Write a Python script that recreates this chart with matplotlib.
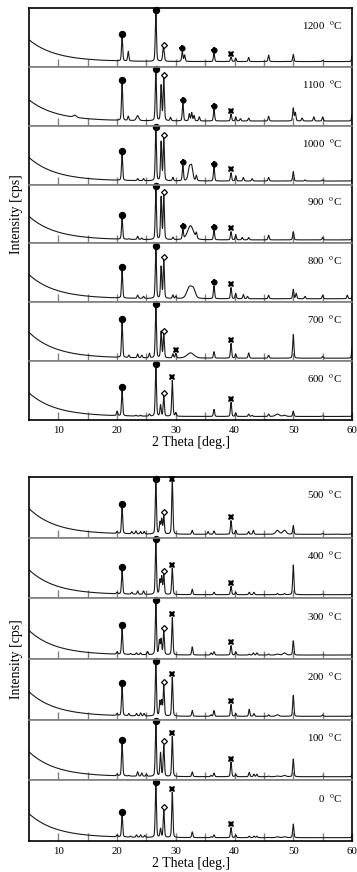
import numpy as np
import matplotlib
matplotlib.use('Agg')
import matplotlib.pyplot as plt

plt.rcParams['font.family'] = ['Liberation Serif', 'DejaVu Serif']
plt.rcParams['mathtext.fontset'] = 'stix'

# ---------------- data ----------------
temps_top = [1200, 1100, 1000, 900, 800, 700, 600]
temps_bot = [500, 400, 300, 200, 100, 0]
x_ticks = [10, 20, 30, 40, 50, 60]
x_minor = [10, 15, 20, 25, 30, 35, 40, 45, 50, 55]

# background per panel (top->bottom, 1200 ... 0): level at 5 deg, floor, decay length
bg_start = [0.46, 0.44, 0.46, 0.46, 0.47, 0.49, 0.46, 0.48, 0.47, 0.47, 0.46, 0.47, 0.45]
bg_floor = [0.09, 0.08, 0.06, 0.06, 0.06, 0.05, 0.06, 0.055, 0.06, 0.065, 0.055, 0.06, 0.055]
bg_decay = [4.5, 4.5, 4.5, 4.5, 4.5, 4.5, 4.5, 4.5, 4.5, 4.5, 4.5, 4.5, 4.5]

# peaks: (2theta, total height as fraction of panel, [half width])
peaks_1200 = [(20.85, 0.51), (21.9, 0.26), (26.6, 0.92), (27.9, 0.34, 0.15), (31.1, 0.26),
              (31.5, 0.2), (36.5, 0.23), (39.4, 0.17), (40.2, 0.15), (42.4, 0.16),
              (45.8, 0.2), (50.0, 0.21), (55.0, 0.11), (60.05, 0.2)]
peaks_1100 = [(12.8, 0.18, 0.3), (20.85, 0.73), (21.9, 0.16), (23.5, 0.17, 0.25), (26.6, 0.92),
              (27.5, 0.68), (27.95, 0.8), (29.1, 0.14), (31.2, 0.38), (32.3, 0.2),
              (32.7, 0.22), (33.1, 0.17), (34.0, 0.15), (36.5, 0.28), (39.4, 0.2),
              (40.2, 0.15), (41.0, 0.12), (42.4, 0.13), (45.8, 0.16), (50.0, 0.3),
              (50.35, 0.22), (51.5, 0.13), (53.5, 0.15), (55.0, 0.15), (60.05, 0.2)]
peaks_1000 = [(8.8, 0.13, 0.25), (13.5, 0.1, 0.3), (20.85, 0.52), (23.5, 0.1), (24.5, 0.1),
              (26.6, 0.95), (27.5, 0.72), (27.95, 0.78), (29.5, 0.12), (31.2, 0.32),
              (32.3, 0.27, 0.25), (32.7, 0.29, 0.25), (33.5, 0.15), (36.5, 0.3),
              (39.4, 0.2), (40.2, 0.15), (41.5, 0.12), (43.0, 0.1), (45.8, 0.12),
              (50.0, 0.22), (52.0, 0.08), (55.0, 0.08), (60.05, 0.1)]
peaks_900 = [(8.8, 0.15, 0.25), (13.8, 0.1, 0.3), (20.85, 0.43), (22.0, 0.08), (23.5, 0.12),
             (24.2, 0.09), (26.6, 0.92), (27.5, 0.78), (27.95, 0.8), (29.5, 0.1),
             (31.2, 0.22), (32.5, 0.3, 0.6), (33.5, 0.15), (36.5, 0.22), (39.4, 0.2),
             (40.2, 0.15), (41.3, 0.1), (42.4, 0.1), (45.8, 0.14), (50.0, 0.2),
             (55.0, 0.1), (60.05, 0.1)]
peaks_800 = [(8.8, 0.15, 0.25), (13.8, 0.1, 0.3), (20.85, 0.54), (23.5, 0.12), (24.5, 0.1),
             (26.6, 0.9), (27.5, 0.6), (27.95, 0.7), (29.5, 0.12), (30.0, 0.1),
             (32.3, 0.25, 0.5), (33.0, 0.2, 0.4), (36.5, 0.28), (39.4, 0.25), (40.2, 0.15),
             (41.5, 0.13), (42.2, 0.1), (45.8, 0.12), (50.0, 0.22), (50.5, 0.15),
             (52.0, 0.1), (55.0, 0.12), (59.2, 0.12), (60.05, 0.1)]
peaks_700 = [(13.8, 0.08, 0.3), (20.85, 0.66), (22.0, 0.1), (23.5, 0.12), (24.2, 0.1),
             (25.5, 0.13), (26.6, 0.92), (27.5, 0.5), (27.95, 0.45), (29.5, 0.12),
             (30.0, 0.13), (32.5, 0.14, 0.7), (36.5, 0.16), (39.4, 0.3), (40.2, 0.12),
             (42.4, 0.14), (45.8, 0.1), (50.0, 0.45), (55.0, 0.08), (60.05, 0.25)]
peaks_600 = [(20.0, 0.15), (20.85, 0.5), (22.0, 0.07), (23.2, 0.08), (24.0, 0.08),
             (25.5, 0.1), (26.6, 0.9), (27.4, 0.25), (27.95, 0.4), (29.4, 0.67),
             (30.0, 0.12), (36.5, 0.18), (39.4, 0.3), (40.2, 0.12), (42.4, 0.1),
             (43.0, 0.08), (45.8, 0.1), (47.3, 0.1, 0.4), (48.5, 0.08, 0.3), (50.0, 0.15),
             (55.0, 0.07), (60.05, 0.1)]
peaks_500 = [(20.0, 0.1), (20.85, 0.5), (22.5, 0.1), (23.2, 0.11), (24.0, 0.1), (24.6, 0.1),
             (26.6, 0.9), (27.3, 0.25), (27.6, 0.3), (27.95, 0.35), (29.4, 0.95),
             (32.8, 0.12), (35.5, 0.1), (36.5, 0.11), (39.4, 0.28), (40.2, 0.12),
             (42.4, 0.1), (43.2, 0.12), (47.3, 0.12, 0.35), (48.5, 0.12, 0.35),
             (50.0, 0.2), (55.0, 0.07), (57.5, 0.06), (60.05, 0.1)]
peaks_400 = [(20.0, 0.1), (20.85, 0.46), (22.5, 0.1), (23.5, 0.12), (24.5, 0.12),
             (26.6, 0.92), (27.3, 0.3), (27.6, 0.35), (27.95, 0.38), (29.4, 0.5),
             (32.8, 0.15), (36.5, 0.1), (39.4, 0.2), (40.2, 0.1), (42.5, 0.1),
             (43.3, 0.1), (47.3, 0.08), (48.5, 0.08), (50.0, 0.55), (55.0, 0.07),
             (60.05, 0.1)]
peaks_300 = [(20.0, 0.12), (20.85, 0.5), (22.3, 0.09), (23.3, 0.1), (24.0, 0.1), (25.2, 0.12),
             (26.6, 0.92), (27.2, 0.3), (27.5, 0.32), (27.95, 0.45), (29.4, 0.68),
             (32.8, 0.2), (36.0, 0.1), (36.5, 0.12), (39.4, 0.22), (40.2, 0.12),
             (42.5, 0.08), (43.2, 0.1), (43.8, 0.1), (45.8, 0.08), (47.3, 0.08, 0.3),
             (48.5, 0.1, 0.3), (50.0, 0.3), (55.0, 0.07), (60.05, 0.1)]
peaks_200 = [(20.0, 0.1), (20.85, 0.55), (22.0, 0.1), (23.3, 0.1), (24.0, 0.11), (24.6, 0.1),
             (26.6, 0.92), (27.3, 0.3), (27.6, 0.3), (27.95, 0.55), (29.4, 0.7),
             (32.8, 0.15), (36.0, 0.08), (36.5, 0.15), (39.4, 0.25), (40.2, 0.1),
             (42.5, 0.17), (43.3, 0.1), (45.8, 0.08), (47.3, 0.08, 0.3), (50.0, 0.4),
             (55.0, 0.08), (60.05, 0.1)]
peaks_100 = [(8.8, 0.1, 0.25), (13.8, 0.08, 0.3), (20.0, 0.1), (20.85, 0.62), (22.0, 0.08),
             (23.5, 0.14), (24.2, 0.12), (25.0, 0.1), (26.6, 0.92), (27.4, 0.45),
             (27.95, 0.58), (29.4, 0.72), (32.8, 0.14), (36.0, 0.08), (36.5, 0.12),
             (39.4, 0.3), (40.2, 0.1), (42.5, 0.13), (43.3, 0.1), (43.8, 0.1),
             (45.8, 0.07), (47.3, 0.07, 0.3), (48.5, 0.08, 0.3), (50.0, 0.35),
             (55.0, 0.07), (60.05, 0.1)]
peaks_0 = [(20.0, 0.1), (20.85, 0.43), (22.3, 0.08), (23.3, 0.1), (24.0, 0.1), (24.7, 0.09),
           (26.6, 0.92), (27.4, 0.2), (27.95, 0.5), (29.4, 0.8), (32.8, 0.15),
           (36.0, 0.07), (36.5, 0.1), (39.4, 0.22), (40.2, 0.1), (42.5, 0.08),
           (43.3, 0.08), (43.8, 0.08), (45.8, 0.06), (47.3, 0.07, 0.3), (48.5, 0.07, 0.3),
           (50.0, 0.28), (55.0, 0.05), (60.05, 0.1)]

# phase markers: 'q' = filled circle, 'd' = open diamond, 'c' = filled cross, 'x' = bold x
marks_1200 = [('q', 20.85), ('q', 26.6), ('d', 27.95), ('c', 31.1), ('c', 36.5), ('x', 39.4)]
marks_1100 = [('q', 20.85), ('q', 26.6), ('d', 27.95), ('c', 31.2), ('c', 36.5), ('x', 39.4)]
marks_1000 = [('q', 20.85), ('q', 26.6), ('d', 27.95), ('c', 31.2), ('c', 36.5), ('x', 39.4)]
marks_900 = [('q', 20.85), ('q', 26.6), ('d', 27.95), ('c', 31.2), ('c', 36.5), ('x', 39.4)]
marks_800 = [('q', 20.85), ('q', 26.6), ('d', 27.95), ('c', 36.5), ('x', 39.4)]
marks_700 = [('q', 20.85), ('q', 26.6), ('d', 27.95), ('x', 30.0), ('x', 39.4)]
marks_low = [('q', 20.85), ('q', 26.6), ('d', 27.95), ('x', 29.4), ('x', 39.4)]

peaks_top = [peaks_1200, peaks_1100, peaks_1000, peaks_900, peaks_800, peaks_700, peaks_600]
peaks_bot = [peaks_500, peaks_400, peaks_300, peaks_200, peaks_100, peaks_0]
marks_top = [marks_1200, marks_1100, marks_1000, marks_900, marks_800, marks_700, marks_low]
marks_bot = [marks_low] * 6

# ---------------- drawing ----------------
x = np.arange(5, 60.0001, 0.02)


def background(xx, i):
    return bg_floor[i] + (bg_start[i] - bg_floor[i]) * np.exp(-(np.asarray(xx) - 5) / bg_decay[i])


def pattern(peaks, i):
    y = background(x, i).copy()
    for pk in peaks:
        pos, h = pk[0], pk[1]
        w = pk[2] if len(pk) > 2 else 0.12
        amp = max(h - float(background(pos, i)), 0)
        t = (x - pos) / w
        y += amp * (0.7 * np.exp(-np.log(2) * t ** 2) + 0.3 / (1 + t ** 2))
    return y


fig = plt.figure(figsize=(3.57, 8.72), dpi=100)
W, H = 357, 872
left, right = 29 / W, 352 / W
sep_col = '#808080'


def draw_group(top_px, bot_px, temps, peaks_list, marks_list, idx0):
    n = len(temps)
    ph = (bot_px - top_px) / n
    axes = []
    for k in range(n):
        y0 = 1 - (top_px + (k + 1) * ph) / H
        ax = fig.add_axes([left, y0, right - left, ph / H])
        i = idx0 + k
        y = pattern(peaks_list[k], i)
        ax.plot(x, y, color='#1a1a1a', lw=0.8)
        ax.set_xlim(5, 60)
        ax.set_ylim(0, 1)
        ax.set_yticks([])
        for s in ['left', 'right']:
            ax.spines[s].set_color('black')
            ax.spines[s].set_linewidth(1.2)
        ax.spines['top'].set_color('black' if k == 0 else sep_col)
        ax.spines['top'].set_linewidth(1.2)
        ax.spines['bottom'].set_color('black' if k == n - 1 else sep_col)
        ax.spines['bottom'].set_linewidth(1.2)
        ax.set_xticks(x_minor)
        ax.tick_params(axis='x', direction='in', length=6, width=1.0, color=sep_col,
                       labelbottom=False)
        for kind, pos in marks_list[k]:
            yy = float(np.interp(pos, x, y)) + 0.055
            yy = min(yy, 0.97)
            if kind == 'q':
                ax.plot(pos, yy, 'o', ms=4.3, color='black', clip_on=False)
            elif kind == 'd':
                ax.plot(pos, yy, 'D', ms=3.0, mfc='white', mec='black', mew=0.9, clip_on=False)
            elif kind == 'x':
                ax.plot(pos, yy, 'X', ms=5.0, color='black', mew=0, clip_on=False)
            elif kind == 'c':
                ax.plot(pos, yy, 'o', ms=3.4, color='black', clip_on=False)
                ax.plot(pos, yy, '+', ms=5.0, mew=1.3, color='black', clip_on=False)
        ax.text(0.97, 0.70, f"{temps[k]}  $^{{\\rm o}}$C", transform=ax.transAxes,
                ha='right', va='center', fontsize=7.8)
        axes.append(ax)
    last = axes[-1]
    last.set_xticks(x_ticks)
    last.set_xticks(x_minor, minor=True)
    last.tick_params(axis='x', which='major', direction='in', length=6, width=1.0,
                     color=sep_col, labelbottom=True, labelsize=7.8, pad=4)
    last.tick_params(axis='x', which='minor', direction='in', length=6, width=1.0,
                     color=sep_col)
    last.set_xlabel('2 Theta [deg.]', fontsize=10, labelpad=1)
    fig.text(17 / W, 1 - ((top_px + bot_px) / 2) / H, 'Intensity [cps]', rotation=90,
             ha='center', va='center', fontsize=10)
    return axes


draw_group(8, 420, temps_top, peaks_top, marks_top, 0)
draw_group(477, 841, temps_bot, peaks_bot, marks_bot, 7)

fig.savefig('out.png', dpi=100)
